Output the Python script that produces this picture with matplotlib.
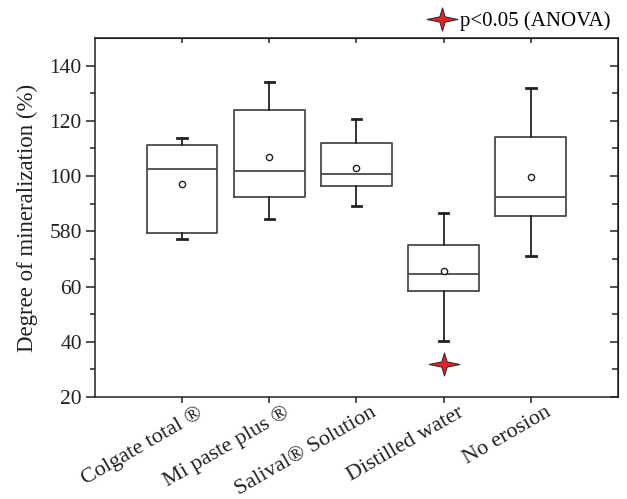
import numpy as np
import matplotlib
matplotlib.use("Agg")
import matplotlib.pyplot as plt
from matplotlib.path import Path
from matplotlib.lines import Line2D
import matplotlib.transforms as mtransforms

# --- data ---
categories = ["Colgate total ®", "Mi paste plus ®", "Salival® Solution",
              "Distilled water", "No erosion"]
whislo = [77.1, 84.3, 89.0, 40.2, 71.0]
q1 = [79.5, 92.4, 96.3, 58.3, 85.6]
med = [102.6, 102.0, 100.7, 64.5, 92.4]
q3 = [111.3, 124.1, 112.0, 74.9, 114.0]
whishi = [113.7, 134.2, 120.5, 86.6, 132.0]
means = [97.0, 106.8, 103.0, 65.5, 99.6]
outliers = [[], [], [], [31.8], []]

yticks = [20, 40, 60, 80, 100, 120, 140]
ytick_labels = ["20", "40", "60", "580", "100", "120", "140"]

plt.rcParams['font.family'] = ['Liberation Serif', 'DejaVu Serif']

# 4-pointed star marker
a = 0.17
star = Path([(1, 0), (a, a), (0, 0.75), (-a, a), (-1, 0), (-a, -a),
             (0, -0.75), (a, -a), (1, 0)],
            [Path.MOVETO] + [Path.LINETO] * 7 + [Path.CLOSEPOLY])
star_red = "#e52329"
star_edge = "#3a2a2a"
ink = "#222222"

fig = plt.figure(figsize=(6.27, 4.99), dpi=100)
ax = fig.add_axes([0.1515, 0.2044, 0.8340, 0.7194])

positions = np.arange(1, len(categories) + 1)
stats = []
for i in range(len(categories)):
    stats.append(dict(whislo=whislo[i], q1=q1[i], med=med[i], q3=q3[i],
                      whishi=whishi[i], mean=means[i], fliers=outliers[i]))

box_col = "#4a4a4a"
ax.bxp(stats, positions=positions, widths=0.81, showmeans=True,
       boxprops=dict(color=box_col, linewidth=1.3),
       medianprops=dict(color=box_col, linewidth=1.3),
       whiskerprops=dict(color=ink, linewidth=1.3),
       capprops=dict(color=ink, linewidth=2.0),
       capwidths=0.11,
       meanprops=dict(marker="o", markersize=4.5, markerfacecolor="white",
                      markeredgecolor=ink, markeredgewidth=1.0),
       flierprops=dict(marker=star, markersize=22, markerfacecolor=star_red,
                       markeredgecolor=star_edge, markeredgewidth=0.8,
                       linestyle="none"))

ax.set_xlim(0, 6)
ax.set_ylim(20, 150)
ax.set_yticks(yticks)
ax.set_yticklabels(ytick_labels)
ax.set_yticks(np.arange(30, 150, 20), minor=True)
ax.set_xticks(positions)
ax.set_xticklabels([])

# rotated category labels, shifted a little right of the ticks
trans = mtransforms.blended_transform_factory(ax.transData, ax.transAxes)
trans = trans + mtransforms.ScaledTranslation(0.14, -0.06, fig.dpi_scale_trans)
for p, lab in zip(positions, categories):
    ax.text(p, 0, lab, transform=trans, rotation=30, rotation_mode="anchor",
            ha="right", va="top", fontsize=16, color=ink)

ax.tick_params(axis="x", which="major", direction="out", length=4,
               width=1.1, colors=ink)
ax.tick_params(axis="y", which="major", direction="out", length=6.5,
               width=1.1, colors=ink, labelsize=15.5, pad=3)
ax.tick_params(axis="y", which="minor", direction="out", length=3.5,
               width=1.1, colors=ink)
for sp in ax.spines.values():
    sp.set_linewidth(1.1)
    sp.set_color(ink)

# mirrored ticks on top / right, pointing inward
top = ax.secondary_xaxis("top")
top.set_xticks(positions)
top.tick_params(direction="in", length=3.5, width=1.1, labeltop=False,
                colors=ink)
right = ax.secondary_yaxis("right")
right.set_yticks(yticks)
right.set_yticks(np.arange(30, 150, 20), minor=True)
right.tick_params(which="major", direction="in", length=6, width=1.1,
                  labelright=False, colors=ink)
right.tick_params(which="minor", direction="in", length=4, width=1.1,
                  colors=ink)

ax.set_ylabel("Degree of mineralization (%)", fontsize=16.5, color=ink,
              labelpad=8)

handle = Line2D([], [], marker=star, markersize=22, markerfacecolor=star_red,
                markeredgecolor=star_edge, markeredgewidth=0.8, linestyle="none")
ax.legend([handle], ["p<0.05 (ANOVA)"], loc="lower right",
          bbox_to_anchor=(1.01, 0.985), frameon=False, fontsize=15,
          handletextpad=0.25, borderpad=0.1, handlelength=1.2)

fig.savefig("out.png", dpi=100)
